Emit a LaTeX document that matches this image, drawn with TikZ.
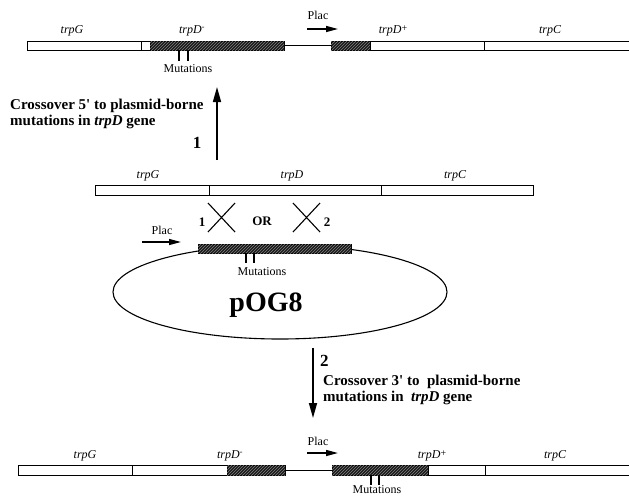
\documentclass[tikz,border=0pt]{standalone}
\usepackage{fontspec}
\setmainfont{Liberation Serif}
\usetikzlibrary{patterns,arrows.meta}
\tikzset{
  gene/.style={draw, line width=0.9pt, fill=white},
  mutant/.style={draw, line width=0.9pt, fill=black!90,
    postaction={pattern=north east lines, pattern color=black!50}},
  genelabel/.style={font=\fontsize{12}{13}\selectfont\itshape, inner sep=0pt},
  small/.style={font=\fontsize{12}{13}\selectfont, inner sep=0pt},
  steptext/.style={font=\fontsize{15}{16}\selectfont\bfseries, align=left, inner sep=0pt},
  stepnum/.style={font=\fontsize{17}{18}\selectfont\bfseries, inner sep=0pt},
  crossnum/.style={font=\fontsize{13}{14}\selectfont\bfseries, inner sep=0pt},
  bigarrow/.style={line width=1.6pt, -{Triangle[length=15pt,width=8pt]}},
  placarrow/.style={line width=1.4pt, -{Triangle[length=12pt,width=6pt]}},
  tick/.style={line width=1.3pt}
}
\newcommand{\plussup}{\raisebox{0.45ex}{\fontsize{10}{10}\selectfont\upshape +}}
\begin{document}
\begin{tikzpicture}[x=1pt,y=-1pt]
  \useasboundingbox (0,0) rectangle (629,499);
  \clip (0,0) rectangle (629,499);

  % top recombinant
  \draw[line width=0.9pt] (284,45.5) -- (331,45.5);
  \draw[gene] (27,41) rectangle (141,50);
  \draw[gene] (141,41) rectangle (150,50);
  \draw[mutant] (150,41) rectangle (284,50);
  \draw[mutant] (331,41) rectangle (370,50);
  \draw[gene] (370,41) rectangle (484,50);
  \draw[gene] (484,41) rectangle (640,50);
  \node[genelabel] (topG) at (72,31) {trpG};
  \node[genelabel] (topDm) at (192,31) {trpD\textsuperscript{-}};
  \node[genelabel] (topDp) at (393,31) {trpD\plussup};
  \node[genelabel] (topC) at (550,31) {trpC};
  \node[small] (topPlac) at (318,15) {Plac};
  \coordinate (topPa) at (307,29);
  \coordinate (topPb) at (338,29);
  \draw[placarrow] (topPa) -- (topPb);
  \draw[tick] (179,50) -- (179,61) (188,50) -- (188,61);
  \node[small] (topMut) at (188,69) {Mutations};

  % step 1
  \coordinate (upA) at (217,160);
  \coordinate (upB) at (217,87);
  \draw[bigarrow] (upA) -- (upB);
  \node[stepnum] (num1) at (197,143) {1};
  \node[steptext, anchor=west] (cross5) at (10,114)
    {Crossover 5\textquotesingle{} to plasmid-borne\\mutations in \textit{trpD} gene};

  % chromosome
  \draw[gene] (95,185) rectangle (209,195);
  \draw[gene] (209,185) rectangle (381,195);
  \draw[gene] (381,185) rectangle (533,195);
  \node[genelabel] (chrG) at (148,176) {trpG};
  \node[genelabel] (chrD) at (292,176) {trpD};
  \node[genelabel] (chrC) at (455,176) {trpC};

  % crossovers
  \draw[line width=1.1pt] (208,203) -- (235,232) (208,232) -- (235,203);
  \draw[line width=1.1pt] (293,203) -- (320,232) (293,232) -- (320,203);
  \node[crossnum] (x1) at (202,222) {1};
  \node[crossnum] (xor) at (262,221) {OR};
  \node[crossnum] (x2) at (327,222) {2};

  % plasmid
  \draw[line width=1.1pt] (280,292) ellipse [x radius=167, y radius=47];
  \draw[mutant] (198,244) rectangle (351,253);
  \node[small] (plPlac) at (162,230) {Plac};
  \coordinate (plPa) at (142,242);
  \coordinate (plPb) at (181,242);
  \draw[placarrow] (plPa) -- (plPb);
  \draw[tick] (246,253) -- (246,263) (254,253) -- (254,263);
  \node[small] (plMut) at (262,272) {Mutations};
  \node[font=\fontsize{28}{30}\selectfont\bfseries, inner sep=0pt] (pog) at (266,305) {pOG8};

  % step 2
  \coordinate (dnA) at (313,348);
  \coordinate (dnB) at (313,418);
  \draw[bigarrow] (dnA) -- (dnB);
  \node[stepnum, anchor=west] (num2) at (320,361) {2};
  \node[steptext, anchor=west] (cross3) at (323,390)
    {Crossover 3\textquotesingle{} to~ plasmid-borne\\mutations in~ \textit{trpD} gene};

  % bottom recombinant
  \draw[line width=0.9pt] (285,470) -- (332,470);
  \draw[gene] (18,465) rectangle (132,475);
  \draw[gene] (132,465) rectangle (227,475);
  \draw[mutant] (227,465) rectangle (285,475);
  \draw[mutant] (332,465) rectangle (428,475);
  \draw[gene] (428,465) rectangle (485,475);
  \draw[gene] (485,465) rectangle (640,475);
  \node[genelabel] (botG) at (85,456) {trpG};
  \node[genelabel] (botDm) at (230,456) {trpD\textsuperscript{-}};
  \node[genelabel] (botDp) at (432,456) {trpD\plussup};
  \node[genelabel] (botC) at (555,456) {trpC};
  \node[small] (botPlac) at (318,441) {Plac};
  \coordinate (botPa) at (307,453);
  \coordinate (botPb) at (338,453);
  \draw[placarrow] (botPa) -- (botPb);
  \draw[tick] (371,475) -- (371,485) (379,475) -- (379,485);
  \node[small] (botMut) at (377,490) {Mutations};
\end{tikzpicture}
\end{document}
